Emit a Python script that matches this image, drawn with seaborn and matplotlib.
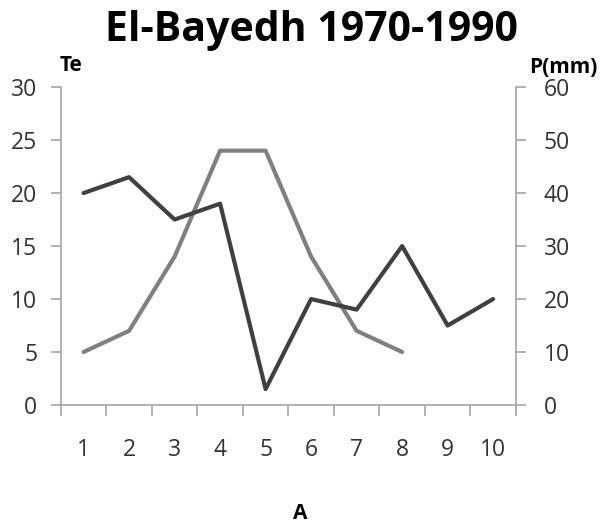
import pandas as pd
import matplotlib.pyplot as plt
import seaborn as sns
import numpy as np

# data
months = [1, 2, 3, 4, 5, 6, 7, 8, 9, 10]
precip_mm = [40, 43, 35, 38, 3, 20, 18, 30, 15, 20]
temp_months = [1, 2, 3, 4, 5, 6, 7, 8]
temp_c = [5, 7, 14, 24, 24, 14, 7, 5]

df_p = pd.DataFrame({'A': months, 'P': precip_mm})
df_t = pd.DataFrame({'A': temp_months, 'Te': temp_c})

sns.set_style('white')
plt.rcParams['font.family'] = ['Open Sans', 'DejaVu Sans']

fig = plt.figure(figsize=(6.02, 5.29), dpi=100)
ax = fig.add_axes([0.101, 0.2344, 0.756, 0.601])
ax2 = ax.twinx()

sns.lineplot(x='A', y='Te', data=df_t, ax=ax, color='#808080', linewidth=3.0)
sns.lineplot(x='A', y='P', data=df_p, ax=ax2, color='#404040', linewidth=3.0)

spine_col = '#a6a6a6'
lab_col = '#333333'
ax.set_xlim(0.5, 10.5)
ax.set_ylim(0, 30)
ax2.set_ylim(0, 60)
ax.set_yticks(np.arange(0, 31, 5))
ax2.set_yticks(np.arange(0, 61, 10))
ax.set_xticks(months)
ax.set_xticks(np.arange(0.5, 11, 1), minor=True)

for a in (ax, ax2):
    for s in a.spines.values():
        s.set_visible(False)
ax.spines['left'].set_visible(True)
ax.spines['bottom'].set_visible(True)
ax2.spines['right'].set_visible(True)
for s in (ax.spines['left'], ax.spines['bottom'], ax2.spines['right']):
    s.set_color(spine_col)
    s.set_linewidth(1.2)

ax.tick_params(axis='x', which='major', length=0, pad=24, labelsize=16.5, colors=lab_col)
ax.tick_params(axis='x', which='minor', bottom=True, length=8, width=1.2, color=spine_col, direction='out')
ax.tick_params(axis='y', length=7, width=1.2, color=spine_col, labelsize=16.5, labelcolor=lab_col, pad=10, left=True)
ax2.tick_params(axis='y', length=7, width=1.2, color=spine_col, labelsize=16.5, labelcolor=lab_col, pad=13, right=True)

ax.set_xlabel('')
ax.set_ylabel('')
ax2.set_ylabel('')

fig.text(0.518, 0.9225, 'El-Bayedh 1970-1990', ha='center', va='baseline', fontsize=29.5, fontweight='bold', color='black')
fig.text(0.118, 0.866, 'Te', ha='center', va='baseline', fontsize=15, fontweight='bold', color='black')
fig.text(0.935, 0.862, 'P(mm)', ha='center', va='baseline', fontsize=15, fontweight='bold', color='black')
fig.text(0.498, 0.030, 'A', ha='center', va='center', fontsize=15, fontweight='bold', color='black')

plt.savefig('out.png', dpi=100)
